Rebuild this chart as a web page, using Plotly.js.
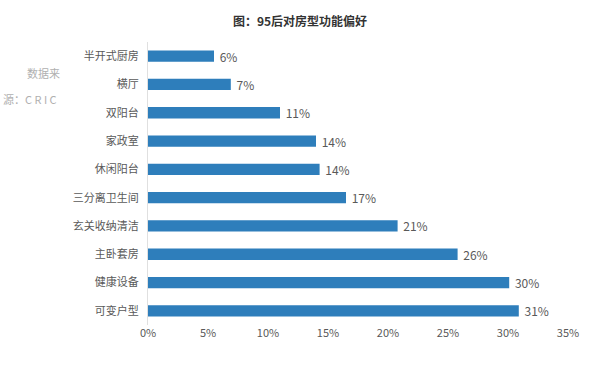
<!DOCTYPE html>
<html>
<head>
<meta charset="utf-8">
<script src="https://cdn.plot.ly/plotly-3.0.1.min.js"></script>
<style>body{margin:0;background:#fff}#chart{width:600px;height:365px}</style>
</head>
<body>
<div id="chart"></div>
<script>
var categories = ["可变户型","健康设备","主卧套房","玄关收纳清洁","三分离卫生间","休闲阳台","家政室","双阳台","横厅","半开式厨房"];
var values = [30.9, 30.1, 25.8, 20.8, 16.5, 14.3, 14.0, 11.0, 6.9, 5.5];
var labels = ["31%","30%","26%","21%","17%","14%","14%","11%","7%","6%"];
var tickVals = [0, 5, 10, 15, 20, 25, 30, 35];
var tickText = ["0%","5%","10%","15%","20%","25%","30%","35%"];

var font = "'Noto Sans CJK SC', 'Noto Sans', sans-serif";
Plotly.newPlot("chart", [{
  type: "bar",
  orientation: "h",
  y: categories,
  x: values,
  text: labels,
  texttemplate: " %{text}",
  textposition: "outside",
  constraintext: "none",
  cliponaxis: false,
  textfont: {family: font, size: 12, color: "#595959"},
  marker: {color: "#2E7EBB"},
  hoverinfo: "none"
}], {
  width: 600, height: 365,
  margin: {l: 148, r: 32, t: 42, b: 40},
  paper_bgcolor: "#fff", plot_bgcolor: "#fff",
  bargap: 0.6,
  showlegend: false,
  font: {family: font, color: "#595959", size: 11},
  title: {text: "<b>图：95后对房型功能偏好</b>", x: 0.5, xanchor: "center", y: 0.94, yanchor: "middle",
          font: {family: font, size: 12, color: "#333"}},
  xaxis: {range: [0, 35], tickvals: tickVals, ticktext: tickText, showgrid: false, zeroline: false,
          showline: false, ticks: "", tickfont: {size: 11, color: "#595959"}, fixedrange: true},
  yaxis: {showgrid: false, zeroline: false, showline: true, linecolor: "#e0e0e0", linewidth: 1,
          ticks: "", ticklabelstandoff: 6, tickfont: {size: 11, color: "#595959"}, fixedrange: true},
  annotations: [
    {text: "数据来", xref: "paper", yref: "paper", x: -0.25, y: 0.925, xanchor: "center", showarrow: false,
     font: {family: font, size: 11, color: "#b0b0b0"}},
    {text: "源：C R I C", xref: "paper", yref: "paper", x: -0.28, y: 0.835, xanchor: "center", showarrow: false,
     font: {family: font, size: 11, color: "#b0b0b0"}}
  ]
}, {displayModeBar: false, staticPlot: true});
</script>
</body>
</html>
